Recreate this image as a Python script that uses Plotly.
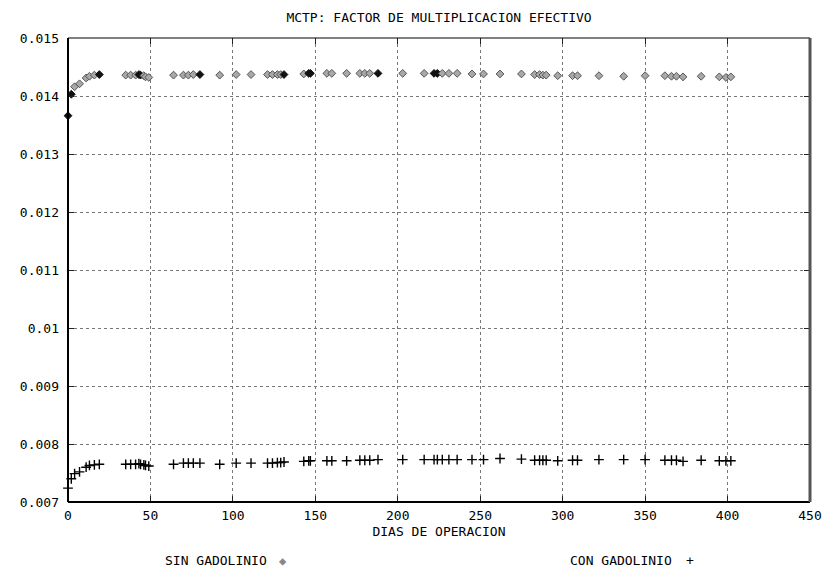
import plotly.graph_objects as go

# ---- data ----
dias = [0, 2, 4, 7, 11, 13, 16, 19, 35, 38, 41, 43, 44, 46, 47, 49, 64, 70, 73, 76,
        80, 92, 102, 111, 121, 124, 127, 129, 131, 143, 146, 147, 157, 160, 169, 177,
        180, 183, 188, 203, 216, 222, 224, 227, 231, 236, 245, 252, 262, 275, 283, 286,
        288, 290, 297, 306, 309, 322, 337, 350, 362, 366, 369, 373, 384, 395, 399, 402]

sin_gadolinio = [0.01366, 0.01403, 0.01416, 0.01421, 0.01431, 0.01434, 0.01436, 0.01437,
                 0.01436, 0.01436, 0.01436, 0.01437, 0.01436, 0.01435, 0.01433, 0.01432,
                 0.01436, 0.01436, 0.01436, 0.01437, 0.01437, 0.01436, 0.01437, 0.01437,
                 0.01437, 0.01437, 0.01437, 0.01437, 0.01437, 0.01438, 0.01439, 0.01439,
                 0.01439, 0.01439, 0.01439, 0.01439, 0.01439, 0.01439, 0.01439, 0.01439,
                 0.01439, 0.01439, 0.01439, 0.01439, 0.01439, 0.01439, 0.01438, 0.01438,
                 0.01438, 0.01438, 0.01437, 0.01437, 0.01436, 0.01436, 0.01435, 0.01435,
                 0.01435, 0.01435, 0.01434, 0.01435, 0.01435, 0.01434, 0.01434, 0.01433,
                 0.01434, 0.01433, 0.01432, 0.01433]

con_gadolinio = [0.00724, 0.00740, 0.00749, 0.00752, 0.00760, 0.00763, 0.00764, 0.00765,
                 0.00765, 0.00765, 0.00765, 0.00766, 0.00765, 0.00764, 0.00763, 0.00762,
                 0.00765, 0.00767, 0.00767, 0.00767, 0.00767, 0.00765, 0.00767, 0.00767,
                 0.00767, 0.00767, 0.00768, 0.00768, 0.00769, 0.00770, 0.00771, 0.00771,
                 0.00771, 0.00771, 0.00771, 0.00772, 0.00772, 0.00772, 0.00773, 0.00773,
                 0.00773, 0.00773, 0.00773, 0.00773, 0.00773, 0.00773, 0.00773, 0.00773,
                 0.00775, 0.00774, 0.00772, 0.00772, 0.00772, 0.00772, 0.00771, 0.00772,
                 0.00772, 0.00773, 0.00773, 0.00773, 0.00772, 0.00772, 0.00772, 0.00770,
                 0.00772, 0.00771, 0.00771, 0.00771]

# days where the diamond markers overlap and render dark
dias_resaltados = [0, 2, 19, 43, 44, 80, 131, 146, 147, 188, 222, 224]

x_ticks = [0, 50, 100, 150, 200, 250, 300, 350, 400, 450]
y_ticks = [0.007, 0.008, 0.009, 0.01, 0.011, 0.012, 0.013, 0.014, 0.015]
y_tick_labels = ["0.007", "0.008", "0.009", "0.01", "0.011", "0.012", "0.013", "0.014", "0.015"]

titulo = "MCTP: FACTOR DE MULTIPLICACION EFECTIVO"
titulo_x = "DIAS DE OPERACION"
nombre_sin = "SIN GADOLINIO"
nombre_con = "CON GADOLINIO"

FONT = "DejaVu Sans Mono"
FS = 13

diamond_colors = ["#111111" if d in dias_resaltados else "#a8a8a8" for d in dias]
diamond_lines = ["#111111" if d in dias_resaltados else "#555555" for d in dias]

fig = go.Figure()
fig.add_trace(go.Scatter(
    x=dias, y=sin_gadolinio, mode="markers", name=nombre_sin,
    marker=dict(symbol="diamond", size=6, color=diamond_colors,
                line=dict(color=diamond_lines, width=1)),
    cliponaxis=False, showlegend=False, hoverinfo="skip"))
fig.add_trace(go.Scatter(
    x=dias, y=con_gadolinio, mode="markers", name=nombre_con,
    marker=dict(symbol="cross-thin", size=7, color="black",
                line=dict(color="black", width=1.4)),
    cliponaxis=False, showlegend=False, hoverinfo="skip"))

axis_common = dict(
    showgrid=True, gridcolor="#777777", griddash="dot", gridwidth=1,
    ticks="inside", ticklen=6, tickcolor="#222222", mirror="allticks",
    showline=False, zeroline=False, automargin=False,
    tickfont=dict(family=FONT, size=FS, color="black"),
)

fig.update_xaxes(range=[0, 450], tickvals=x_ticks, ticklabelstandoff=4, **axis_common,
                 title=dict(text=titulo_x, font=dict(family=FONT, size=FS, color="black"),
                            standoff=4))
fig.update_yaxes(range=[0.007, 0.015], tickvals=y_ticks, ticktext=y_tick_labels,
                 ticklabelstandoff=8, **axis_common)

# frame
fig.add_shape(type="line", xref="paper", yref="paper", x0=0, x1=0, y0=0, y1=1,
              line=dict(color="black", width=2))
fig.add_shape(type="line", xref="paper", yref="paper", x0=0, x1=1, y0=0, y1=0,
              line=dict(color="black", width=2))
fig.add_shape(type="line", xref="paper", yref="paper", x0=0, x1=1, y0=1, y1=1,
              line=dict(color="black", width=1))
fig.add_shape(type="line", xref="paper", yref="paper", x0=1, x1=1, y0=0, y1=1,
              line=dict(color="#555555", width=3))

# legend-like labels at bottom (symbol to the right of the text)
fig.add_annotation(xref="paper", yref="paper", x=0.128, y=-0.127, xanchor="left",
                   yanchor="middle", showarrow=False, text=nombre_sin,
                   font=dict(family=FONT, size=FS, color="black"))
fig.add_annotation(xref="paper", yref="paper", x=0.29, y=-0.127, xanchor="center",
                   yanchor="middle", showarrow=False, text="◆",
                   font=dict(family=FONT, size=12, color="#888888"))
fig.add_annotation(xref="paper", yref="paper", x=0.674, y=-0.127, xanchor="left",
                   yanchor="middle", showarrow=False, text=nombre_con,
                   font=dict(family=FONT, size=FS, color="black"))
fig.add_annotation(xref="paper", yref="paper", x=0.838, y=-0.127, xanchor="center",
                   yanchor="middle", showarrow=False, text="+",
                   font=dict(family=FONT, size=FS, color="black"))

fig.update_layout(
    width=828, height=567,
    margin=dict(l=68, r=18, t=38, b=65, autoexpand=False),
    paper_bgcolor="white", plot_bgcolor="white",
    hovermode=False,
    title=dict(text=titulo, x=0.5, xref="paper", y=1 - 17 / 567, yref="container",
               xanchor="center", yanchor="middle",
               font=dict(family=FONT, size=FS, color="black")),
)

fig.write_html("out.html", config={"displayModeBar": False, "staticPlot": True},
               post_script="document.body.style.margin='0';document.body.style.padding='0';"
                           "document.body.style.overflow='hidden';")
